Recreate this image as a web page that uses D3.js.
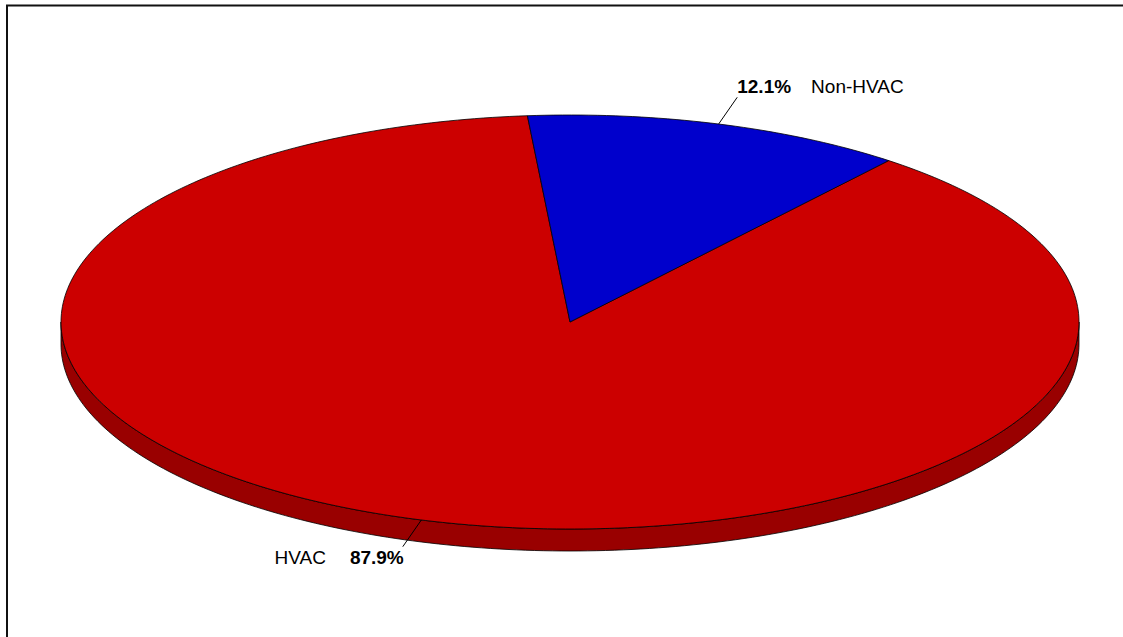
<!DOCTYPE html>
<html><head><meta charset="utf-8">
<script src="https://cdn.jsdelivr.net/npm/d3@7"></script>
<style>html,body{margin:0;padding:0;background:#fff;}svg{display:block;}</style>
</head><body>
<svg id="chart" width="1123" height="637"></svg>
<script>
const categories = ["HVAC", "Non-HVAC"];
const values = [87.9, 12.1];
const valueLabels = ["87.9%", "12.1%"];
const colors = ["#CC0000", "#0000CC"];
const sideColors = ["#990000", "#000099"];

const svg = d3.select("#chart");
const W = 1123, H = 637;
const cx = 570, cy = 322, rx = 509, ry = 207, depth = 22;
const startDeg = 38.76;

// frame
svg.append("path").attr("d", `M7,${H} L7,5.5 L${W},5.5`).attr("fill","none").attr("stroke","#111").attr("stroke-width",2);

const pie = d3.pie().sort(null).value(d => d)
  .startAngle(startDeg*Math.PI/180).endAngle(startDeg*Math.PI/180 + 2*Math.PI);
const arcs = pie(values);

const px = (a, k=1, dy=0) => cx + rx*k*Math.sin(a);
const py = (a, k=1, dy=0) => cy - ry*k*Math.cos(a) + dy;

function arcPoints(a0, a1, dy) {
  const n = Math.max(2, Math.ceil(Math.abs(a1-a0)/(Math.PI/180)));
  const pts = [];
  for (let i=0;i<=n;i++){ const a=a0+(a1-a0)*i/n; pts.push([px(a), py(a,1,dy)]); }
  return pts;
}

// side walls (visible front half: angles PI/2 .. 3PI/2 modulo)
const g = svg.append("g");
arcs.forEach((d,i) => {
  // intersect [d.startAngle,d.endAngle] with visible intervals [PI/2+2kPI, 3PI/2+2kPI]
  for (let k=-1;k<=2;k++){
    const lo = Math.PI/2 + 2*Math.PI*k, hi = 3*Math.PI/2 + 2*Math.PI*k;
    const a0 = Math.max(lo, d.startAngle), a1 = Math.min(hi, d.endAngle);
    if (a1 > a0) {
      const top = arcPoints(a0, a1, 0);
      const bot = arcPoints(a1, a0, depth);
      g.append("path").attr("d", d3.line()(top.concat(bot)) + "Z")
        .attr("fill", sideColors[i]).attr("stroke","#000").attr("stroke-width",0.8);
    }
  }
});

// top face
arcs.forEach((d,i) => {
  const pts = [[cx,cy]].concat(arcPoints(d.startAngle, d.endAngle, 0));
  g.append("path").attr("d", d3.line()(pts) + "Z")
    .attr("fill", colors[i]).attr("stroke","#000").attr("stroke-width",0.8).attr("stroke-linejoin","round");
});

// labels
arcs.forEach((d,i) => {
  const m = (d.startAngle + d.endAngle)/2;
  const x0 = px(m), y0 = py(m);
  const x1 = px(m,1.125), y1 = py(m,1.135);
  svg.append("line").attr("x1",x0).attr("y1",y0).attr("x2",x1).attr("y2",y1)
    .attr("stroke","#000").attr("stroke-width",1);
  const right = Math.sin(m) >= 0;
  const upper = Math.cos(m) >= 0;
  const by = upper ? y1 - 4 : y1 + 17;
  const t = svg.append("text").attr("y", by)
    .attr("font-family","Liberation Sans, Arial, sans-serif").attr("font-size",19).attr("fill","#000");
  if (right) {
    t.attr("x", x1).attr("text-anchor","start");
    t.append("tspan").attr("font-weight","bold").text(valueLabels[i]);
    t.append("tspan").attr("dx",20).text(categories[i]);
  } else {
    t.attr("x", x1+1).attr("text-anchor","end");
    t.append("tspan").text(categories[i]);
    t.append("tspan").attr("dx",24).attr("font-weight","bold").text(valueLabels[i]);
  }
});
</script>
</body></html>
